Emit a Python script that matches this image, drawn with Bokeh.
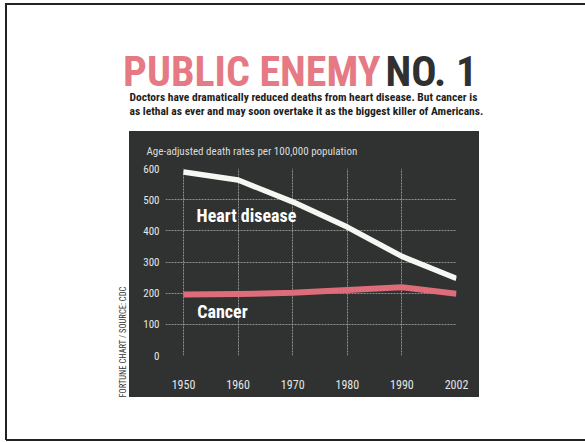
from bokeh.plotting import figure
from bokeh.layouts import column, row
from bokeh.models import Range1d, FixedTicker, Label, Title, InlineStyleSheet
from bokeh.embed import file_html
from bokeh.resources import INLINE

# ---- data -------------------------------------------------------------
years = ["1950", "1960", "1970", "1980", "1990", "2002"]
heart_disease = [589, 563, 493, 412, 318, 247]
cancer = [196, 197, 201, 210, 219, 198]
y_ticks = [0, 100, 200, 300, 400, 500, 600]

title_main = "PUBLIC ENEMY"
title_tail = "NO. 1"
subtitle_lines = [
    "Doctors have dramatically reduced deaths from heart disease. But cancer is",
    "as lethal as ever and may soon overtake it as the biggest killer of Americans.",
]
y_caption = "Age-adjusted death rates per 100,000 population"
credit = "FORTUNE CHART / SOURCE: CDC"

# ---- page geometry ----------------------------------------------------
W, H = 585, 442
PANEL_L, PANEL_R, PANEL_T, PANEL_B = 129, 479, 131, 397
FRAME_L, FRAME_R, FRAME_T, FRAME_B = 165, 456, 165, 355
EDGE_X, EDGE_TOP, EDGE_BOT = 5.5, 3.5, 439.5

PANEL = "#2f3231"
PINK_LINE = "#de6c7b"
PINK_TITLE = "#e57a85"
INK = "#1e1e1e"
RULE = "#222222"
COND = "Roboto Condensed"


def band(w, h):
    """plain white strip of the page, coordinates in pixels from its top-left"""
    f = figure(width=w, height=h, output_backend="svg", toolbar_location=None,
               x_range=Range1d(0, w), y_range=Range1d(h, 0),
               x_axis_type=None, y_axis_type=None, min_border=0)
    f.outline_line_color = None
    f.background_fill_color = "white"
    f.border_fill_color = "white"
    return f


# ---- header strip: title, subtitle, top and left page rules -------------
top = band(W, PANEL_T)
top.segment(x0=[EDGE_X, EDGE_X], y0=[EDGE_TOP, EDGE_TOP], x1=[W, EDGE_X], y1=[EDGE_TOP, PANEL_T],
            line_color=RULE, line_width=2)
top.add_layout(Label(x=380, y=71, text=title_main, text_font=COND, text_font_style="bold",
                     text_font_size="42px", text_color=PINK_TITLE, text_align="right",
                     text_baseline="alphabetic"))
top.add_layout(Label(x=385, y=71, text=title_tail, text_font=COND, text_font_style="bold",
                     text_font_size="42px", text_color="#303030", text_baseline="alphabetic"))
for i, line in enumerate(subtitle_lines):
    top.add_layout(Label(x=129, y=96 + 14.7 * i, text=line, text_font=COND, text_font_style="bold",
                         text_font_size="11.5px", text_color=INK, text_baseline="alphabetic"))

# ---- middle strip: chart panel ------------------------------------------
mid_h = PANEL_B - PANEL_T
xs = list(range(len(years)))
p = figure(width=W, height=mid_h, output_backend="svg", toolbar_location=None,
           x_range=Range1d(-0.33, len(years) - 1), y_range=Range1d(0, 600),
           min_border_left=FRAME_L, min_border_right=W - FRAME_R,
           min_border_top=FRAME_T - PANEL_T, min_border_bottom=PANEL_B - FRAME_B)
p.outline_line_color = None
p.background_fill_color = PANEL
p.border_fill_alpha = 0
# dark card behind the chart, painted under the transparent canvas border
p.styles = {
    "background": (
        f"linear-gradient({PANEL}, {PANEL}) {PANEL_L}px 0px / {PANEL_R - PANEL_L}px 100% no-repeat"
    )
}

p.title.text = y_caption
p.title.align = "left"
p.title.offset = 146 - FRAME_L
p.title.standoff = 22
p.title.text_font = COND
p.title.text_font_style = "normal"
p.title.text_font_size = "11px"
p.title.text_color = "#dcdcdc"

p.add_layout(Title(text=credit, align="left", offset=-(PANEL_B - FRAME_B), standoff=25,
                   text_font=COND, text_font_style="normal", text_font_size="8.5px",
                   text_color="#333333"), "left")

for ax in (p.xaxis[0], p.yaxis[0]):
    ax.axis_line_color = None
    ax.major_tick_line_color = None
    ax.minor_tick_line_color = None
    ax.major_label_text_font = COND
    ax.major_label_text_color = "#e6e6e6"
p.xaxis.ticker = FixedTicker(ticks=xs)
p.xaxis.major_label_overrides = {i: y for i, y in enumerate(years)}
p.xaxis.major_label_text_font_size = "12px"
p.xaxis.major_label_standoff = 18
p.yaxis.ticker = FixedTicker(ticks=y_ticks)
p.yaxis.major_label_text_font_size = "11px"
p.yaxis.major_label_standoff = 0

p.xgrid.ticker = FixedTicker(ticks=xs)
p.ygrid.ticker = FixedTicker(ticks=y_ticks)
for g in (p.xgrid[0], p.ygrid[0]):
    g.grid_line_color = "#a8a8a8"
    g.grid_line_dash = "2 1"
    g.grid_line_width = 1
    g.grid_line_alpha = 0.8

p.line(xs, cancer, line_color=PINK_LINE, line_width=6, line_join="round")
p.line(xs, heart_disease, line_color="#f6f6f2", line_width=5.5, line_join="round")

p.add_layout(Label(x=0.24, y=448, text="Heart disease", text_font=COND, text_font_style="bold",
                   text_font_size="18px", text_color="white", text_baseline="alphabetic"))
p.add_layout(Label(x=0.25, y=142, text="Cancer", text_font=COND, text_font_style="bold",
                   text_font_size="18px", text_color="white", text_baseline="alphabetic"))

# ---- bottom strip: bottom and left page rules ---------------------------
bot_h = H - PANEL_B
bottom = band(W, bot_h)
bottom.segment(x0=[EDGE_X, EDGE_X], y0=[0, EDGE_BOT - PANEL_B], x1=[EDGE_X, W],
               y1=[EDGE_BOT - PANEL_B, EDGE_BOT - PANEL_B], line_color=RULE, line_width=2)

# left page rule drawn over the full height of the page
page_rule = InlineStyleSheet(css=(
    ":host { position: relative; }\n"
    ":host::after { content: ''; position: absolute; "
    f"left: {EDGE_X - 1}px; top: {EDGE_TOP - 1}px; width: 2px; "
    f"height: {EDGE_BOT - EDGE_TOP + 1}px; background: {RULE}; "
    "z-index: 10; pointer-events: none; }"
))
root = column(top, row(p), bottom, stylesheets=[page_rule])
open("out.html", "w").write(file_html(root, INLINE))
